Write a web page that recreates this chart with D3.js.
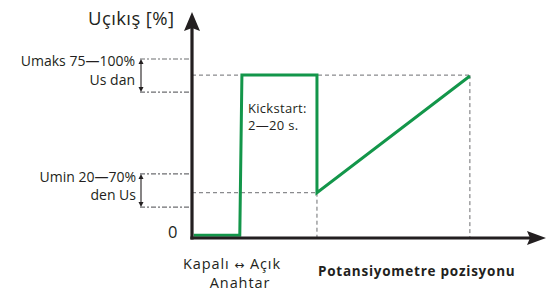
<!DOCTYPE html>
<html><head><meta charset="utf-8">
<script src="https://cdn.jsdelivr.net/npm/d3@7"></script>
<style>body{margin:0;background:#fff}svg{display:block}text{font-family:"Open Sans",sans-serif;fill:#231f20}</style>
</head><body>
<svg id="c" width="550" height="296"></svg>
<script>
// Data (schematic units: x = potentiometer position 0..100, y = output % 0..100)
const curveX = [0.5, 13.5, 14.1, 35.3, 35.3, 78.5];
const curveY = [1.5, 1.5, 91, 91, 25.3, 90.5];
const umaksBand = [100, 81.5];
const uminBand = [35.8, 17.3];
const kickLevel = 91, restartLevel = 25.3;
const kickEndX = 35.3, fullX = 78.5;
const labels = {
  yTitle: "Uçıkış [%]",
  umaks: ["Umaks 75—100%", "Us dan"],
  umin: ["Umin 20—70%", "den Us"],
  zero: "0",
  kick: ["Kickstart:", "2—20 s."],
  switchLbl: [["Kapalı ", "\u2194", " Açık"], "Anahtar"],
  xTitle: "Potansiyometre pozisyonu"
};

const svg = d3.select("#c");
const x = d3.scaleLinear().domain([0,100]).range([192,546]);
const y = d3.scaleLinear().domain([0,100]).range([238,59]);
const dark = "#231f20", green = "#13964a", grey = "#6d6e71";

// inner dashed reference lines
const dashH = [[0, fullX, kickLevel], [0, kickEndX, restartLevel]];
dashH.forEach(d => svg.append("line").attr("x1", x(d[0])).attr("x2", x(d[1]))
  .attr("y1", y(d[2])).attr("y2", y(d[2]))
  .attr("stroke", grey).attr("stroke-width", 1).attr("stroke-dasharray", "4,3"));
[[kickEndX, restartLevel],[fullX, kickLevel]].forEach(d => svg.append("line")
  .attr("x1", x(d[0])).attr("x2", x(d[0])).attr("y1", y(d[1])).attr("y2", y(0))
  .attr("stroke", grey).attr("stroke-width", 1).attr("stroke-dasharray", "4,3"));

// left guide lines (dash-dot)
const guideX0 = 140;
[...umaksBand, ...uminBand].forEach(v => svg.append("line")
  .attr("x1", guideX0).attr("x2", x(0)).attr("y1", y(v)).attr("y2", y(v))
  .attr("stroke", grey).attr("stroke-width", 1.2).attr("stroke-dasharray", "5,2,2,2"));

// double-headed arrows
function dblArrow(v1, v2){
  const ax = 141, y1 = y(v1), y2 = y(v2);
  svg.append("line").attr("x1", ax).attr("x2", ax).attr("y1", y1+3).attr("y2", y2-3)
    .attr("stroke", dark).attr("stroke-width", 1.1);
  svg.append("path").attr("d", `M${ax},${y1} L${ax-2.5},${y1+5} L${ax+2.5},${y1+5}Z`).attr("fill", dark);
  svg.append("path").attr("d", `M${ax},${y2} L${ax-2.5},${y2-5} L${ax+2.5},${y2-5}Z`).attr("fill", dark);
}
dblArrow(umaksBand[0], umaksBand[1]);
dblArrow(uminBand[0], uminBand[1]);

// green curve
const line = d3.line().x(d => x(d[0])).y(d => y(d[1]));
svg.append("path").datum(d3.zip(curveX, curveY)).attr("d", line)
  .attr("fill", "none").attr("stroke", green).attr("stroke-width", 3).attr("stroke-linejoin", "miter");

// axes
svg.append("line").attr("x1", x(0)).attr("x2", x(0)).attr("y1", 28).attr("y2", y(0)+1.5)
  .attr("stroke", dark).attr("stroke-width", 3.2);
svg.append("line").attr("x1", x(0)-1.6).attr("x2", 530).attr("y1", y(0)).attr("y2", y(0))
  .attr("stroke", dark).attr("stroke-width", 3.2);
svg.append("path").attr("d", `M${x(0)},12 L${x(0)+8},31 L${x(0)},28 L${x(0)-8},31Z`).attr("fill", dark);
svg.append("path").attr("d", `M546,${y(0)} L527,${y(0)-7} L530,${y(0)} L527,${y(0)+7}Z`).attr("fill", dark);

// texts
svg.append("text").attr("x", 88).attr("y", 25).attr("font-size", 18.5).attr("letter-spacing", 0.4).text(labels.yTitle);
[66, 85].forEach((yy,i) => svg.append("text").attr("x", 135).attr("y", yy)
  .attr("text-anchor","end").attr("font-size", 14).text(labels.umaks[i]));
[181.5, 199.5].forEach((yy,i) => svg.append("text").attr("x", 136).attr("y", yy)
  .attr("text-anchor","end").attr("font-size", 14).text(labels.umin[i]));
svg.append("text").attr("x", 168).attr("y", 238).attr("font-size", 16.5).text(labels.zero);
[113, 130].forEach((yy,i) => svg.append("text").attr("x", 248).attr("y", yy)
  .attr("font-family", "Liberation Sans").attr("font-size", 13).attr("letter-spacing", 0.3).text(labels.kick[i]));
const sw = svg.append("text").attr("x", 232).attr("y", 269).attr("text-anchor","middle")
  .attr("font-size", 14.5).attr("letter-spacing", 0.9);
labels.switchLbl[0].forEach((t,i) => sw.append("tspan")
  .attr("font-family", i === 1 ? "DejaVu Sans" : null).attr("font-size", i === 1 ? 12 : null).text(t));
svg.append("text").attr("x", 240).attr("y", 288).attr("text-anchor","middle")
  .attr("font-size", 14.5).attr("letter-spacing", 0.9).text(labels.switchLbl[1]);
svg.append("text").attr("x", 318).attr("y", 276).attr("font-size", 13.5).attr("font-weight", "bold")
  .attr("letter-spacing", 0.75).text(labels.xTitle);
</script>
</body></html>
